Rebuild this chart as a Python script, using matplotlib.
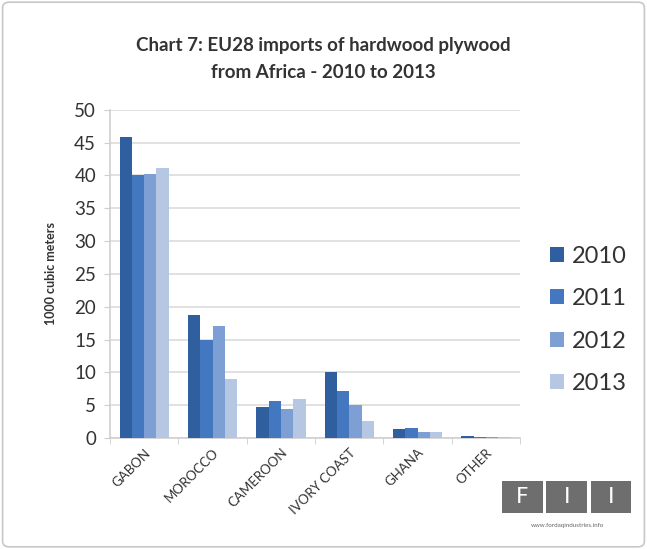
import numpy as np
import matplotlib.pyplot as plt
from matplotlib.patches import Rectangle, FancyBboxPatch

plt.rcParams['font.family'] = ['Lato', 'DejaVu Sans']

# data (1000 cubic meters)
countries = ['GABON', 'MOROCCO', 'CAMEROON', 'IVORY COAST', 'GHANA', 'OTHER']
years = ['2010', '2011', '2012', '2013']
v2010 = [45.8, 18.7, 4.7, 10.1, 1.4, 0.3]
v2011 = [40.0, 15.0, 5.6, 7.2, 1.6, 0.2]
v2012 = [40.2, 17.0, 4.4, 5.0, 1.0, 0.1]
v2013 = [41.2, 9.0, 6.0, 2.6, 1.0, 0.1]
series = [v2010, v2011, v2012, v2013]
colors = ['#2f5f9e', '#4377bf', '#7d9fd3', '#b6c7e3']

fig = plt.figure(figsize=(6.47, 5.49), dpi=100)
fig.patches.append(FancyBboxPatch((0.004, 0.004), 0.992, 0.992, boxstyle='round,pad=0,rounding_size=0.01',
                                  transform=fig.transFigure, fill=False, edgecolor='#c8c8c8', linewidth=1.2))

ax = fig.add_axes([0.170, 0.202, 0.634, 0.598])
x = np.arange(len(countries))
width = 0.18
for i, (vals, yr) in enumerate(zip(series, years)):
    ax.bar(x + (i - 1.5) * width, vals, width, color=colors[i], label=yr, zorder=3)

ax.set_xlim(-0.5, len(countries) - 0.5)
ax.set_ylim(0, 50)
ax.set_yticks(range(0, 51, 5))
ax.grid(axis='y', color='#dcdcdc', linewidth=1.2, zorder=0)
for s in ['top', 'right']:
    ax.spines[s].set_visible(False)
ax.spines['left'].set_color('#cfcfcf')
ax.spines['bottom'].set_color('#cfcfcf')
ax.spines['left'].set_linewidth(1.2)
ax.spines['bottom'].set_linewidth(1.2)
ax.tick_params(axis='y', labelsize=13.5, colors='#cfcfcf', labelcolor='#333333', length=4, pad=6)
ax.set_xticks(x)
ax.set_xticklabels(countries, rotation=45, ha='right', rotation_mode='anchor', fontsize=9.5, color='#333333')
ax.tick_params(axis='x', length=0, pad=6)
ax.set_xticks(np.arange(-0.5, len(countries)), minor=True)
ax.tick_params(axis='x', which='minor', length=4, color='#cfcfcf')

ax.set_ylabel('1000 cubic meters', fontsize=9, fontweight='bold', color='#333333', labelpad=12)

fig.text(0.50, 0.893, 'Chart 7: EU28 imports of hardwood plywood\nfrom Africa - 2010 to 2013',
         ha='center', va='center', fontsize=13.5, fontweight='bold', color='#333333', linespacing=1.7)

ax.legend(loc='center left', bbox_to_anchor=(1.02, 0.36), frameon=False, fontsize=17,
          handlelength=0.6, handleheight=0.6, handletextpad=0.35, labelspacing=0.9, labelcolor='#333333')

# FII logo
for k, letter in enumerate(['F', 'I', 'I']):
    x0 = 0.776 + k * 0.0685
    fig.patches.append(Rectangle((x0, 0.066), 0.063, 0.057, transform=fig.transFigure,
                                 facecolor='#6e6e6e', edgecolor='none'))
    fig.text(x0 + 0.0315, 0.0945, letter, ha='center', va='center', fontsize=16,
             color='white', family='DejaVu Sans')
fig.text(0.877, 0.042, 'www.fordaqindustries.info', ha='center', va='center', fontsize=4.5, color='#666666')

fig.savefig('out.png', dpi=100, facecolor='white')
